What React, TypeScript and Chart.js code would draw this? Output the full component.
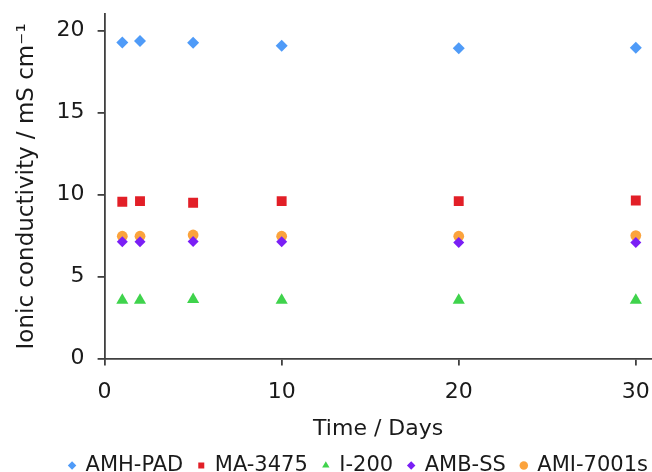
import React, { useEffect, useRef } from 'react';
import { Chart, registerables } from 'chart.js';

Chart.register(...registerables);

// ---- data ----
const days = [1, 2, 5, 10, 20, 30];
const amhPad = [19.28, 19.36, 19.26, 19.08, 18.92, 18.95];
const ma3475 = [9.56, 9.6, 9.5, 9.6, 9.6, 9.64];
const i200 = [3.56, 3.56, 3.6, 3.56, 3.56, 3.56];
const ambSs = [7.12, 7.12, 7.14, 7.12, 7.08, 7.08];
const ami7001s = [7.46, 7.46, 7.54, 7.46, 7.46, 7.5];
const seriesNames = ['AMH-PAD', 'MA-3475', 'I-200', 'AMB-SS', 'AMI-7001s'];
const xTickValues = [0, 10, 20, 30];
const yTickValues = [0, 5, 10, 15, 20];
const xTitle = 'Time / Days';
const yTitle = 'Ionic conductivity / mS cm\u207B\u00B9';

const FONT = 'DejaVu Sans';
const TEXT = '#1a1a1a';
const AXIS = '#404040';
const LEGEND_DX = 27;
const CANVAS_W = 663;
const CANVAS_H = 498;
const CANVAS_TOP = -12;

const legendShift = {
  id: 'legendShift',
  afterLayout(chart: any) {
    const l = chart.legend;
    if (!l) return;
    l.left += LEGEND_DX;
    l.right += LEGEND_DX;
  },
};

export default function App() {
  const ref = useRef<HTMLCanvasElement | null>(null);

  useEffect(() => {
    if (!ref.current) return;
    const mk = (label: string, data: number[], color: string, style: string, r: number) => ({
      label,
      data: days.map((d, i) => ({ x: d, y: data[i] })),
      backgroundColor: color,
      borderColor: color,
      borderWidth: 0,
      pointStyle: style,
      pointRadius: r,
      pointHoverRadius: r,
      showLine: false,
    });
    const chart = new Chart(ref.current, {
      type: 'scatter',
      data: {
        datasets: [
          mk(seriesNames[0], amhPad, '#4f9bf8', 'rectRot', 6),
          mk(seriesNames[1], ma3475, '#e21f27', 'rect', 7),
          mk(seriesNames[2], i200, '#3fd34c', 'triangle', 7),
          mk(seriesNames[3], ambSs, '#7a1ff5', 'rectRot', 5.5),
          mk(seriesNames[4], ami7001s, '#fba33d', 'circle', 5.4),
        ] as any,
      },
      options: {
        responsive: false,
        animation: false,
        events: [],
        layout: { padding: { top: 0, left: 0, right: 0, bottom: 0 } },
        plugins: {
          tooltip: { enabled: false },
          legend: {
            position: 'bottom',
            align: 'center',
            labels: {
              usePointStyle: true,
              boxWidth: 6,
              boxHeight: 6,
              padding: 15,
              color: TEXT,
              font: { family: FONT, size: 21 },
            },
          },
        },
        scales: {
          x: {
            type: 'linear',
            min: 0,
            max: 30.9,
            afterBuildTicks: (s: any) => {
              s.ticks = xTickValues.map((v) => ({ value: v }));
            },
            grid: { drawOnChartArea: false, drawTicks: true, tickLength: 7, color: AXIS, lineWidth: 1.8 },
            border: { display: true, color: AXIS, width: 1.8 },
            ticks: { color: TEXT, font: { family: FONT, size: 22 }, padding: 13, maxRotation: 0 },
            title: {
              display: true,
              text: xTitle,
              color: TEXT,
              font: { family: FONT, size: 22, lineHeight: 1.0 },
              padding: { top: 0, bottom: 0 },
            },
          },
          y: {
            type: 'linear',
            min: 0,
            max: 21,
            afterBuildTicks: (s: any) => {
              s.ticks = yTickValues.map((v) => ({ value: v }));
            },
            grid: { drawOnChartArea: false, drawTicks: true, tickLength: 7, color: AXIS, lineWidth: 1.8 },
            border: { display: true, color: AXIS, width: 1.8 },
            ticks: { color: TEXT, font: { family: FONT, size: 22 }, padding: 13 },
            title: {
              display: true,
              text: yTitle,
              color: TEXT,
              font: { family: FONT, size: 23 },
              padding: { top: 13, bottom: 3 },
            },
          },
        },
      },
      plugins: [legendShift],
    } as any);
    return () => chart.destroy();
  }, []);

  return (
    <div style={{ position: 'absolute', left: 0, top: 0, width: 652, height: 472, overflow: 'hidden', background: '#fff' }}>
      <canvas
        ref={ref}
        width={CANVAS_W}
        height={CANVAS_H}
        style={{ display: 'block', position: 'relative', top: CANVAS_TOP }}
      />
    </div>
  );
}
